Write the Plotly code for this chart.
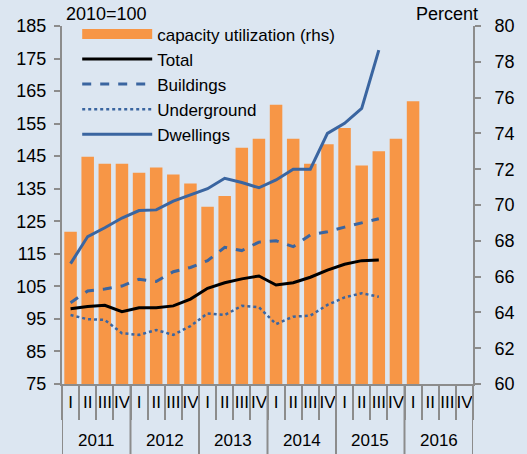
import plotly.graph_objects as go

year_names = ["2011", "2012", "2013", "2014", "2015", "2016"]
quarter_names = ["I", "II", "III", "IV"]
categories = [f"{y} {q}" for y in year_names for q in quarter_names]
quarters = quarter_names * len(year_names)

# capacity utilization, percent (rhs) - 2011 I .. 2016 I
capacity = [68.5, 72.7, 72.3, 72.3, 71.8, 72.1, 71.7, 71.2, 69.9, 70.5, 73.2, 73.7,
            75.6, 73.7, 72.3, 73.4, 74.3, 72.2, 73.0, 73.7, 75.8]

# indices, 2010=100 - 2011 I .. 2015 III
total = [98.1, 98.8, 99.2, 97.2, 98.4, 98.4, 99.0, 101.1, 104.4, 106.1, 107.3, 108.2,
         105.4, 106.1, 107.8, 110.0, 111.8, 112.9, 113.1]
buildings = [100.0, 103.6, 104.2, 105.1, 107.2, 106.5, 109.5, 110.8, 112.9, 117.0, 116.0, 118.6,
             119.0, 117.2, 120.8, 121.8, 123.2, 124.4, 125.8]
underground = [96.2, 94.9, 94.7, 90.6, 90.1, 91.6, 90.1, 92.8, 96.7, 96.2, 99.0, 98.6,
               93.4, 95.7, 96.0, 99.3, 101.6, 102.9, 101.8]
dwellings = [112.0, 120.3, 123.0, 126.0, 128.3, 128.5, 131.2, 133.1, 135.0, 138.2, 136.9, 135.3,
             137.7, 141.0, 141.0, 152.0, 155.1, 159.7, 177.6]

ORANGE = "#F79646"
BLUE = "#3A65A0"
BG = "#DCE6F1"
AXIS = "#8C8C8C"
FONT = "Liberation Sans, Arial, sans-serif"

fig = go.Figure()

# bars sit on the right-hand axis (drawn first, underneath the lines)
fig.add_trace(go.Bar(
    x=categories[:len(capacity)], y=capacity, yaxis="y",
    marker=dict(color=ORANGE, line=dict(width=0)),
    name="capacity utilization (rhs)", showlegend=False,
))
# legend entry for the bars: wide orange block like the original
fig.add_trace(go.Scatter(
    x=[None], y=[None], yaxis="y2", mode="lines",
    line=dict(color=ORANGE, width=10), name="capacity utilization (rhs)",
))

n = len(total)
for name, vals, line in [
    ("Total", total, dict(color="black", width=3)),
    ("Buildings", buildings, dict(color=BLUE, width=3, dash="dash")),
    ("Underground", underground, dict(color=BLUE, width=2.5, dash="dot")),
    ("Dwellings", dwellings, dict(color=BLUE, width=3)),
]:
    fig.add_trace(go.Scatter(x=categories[:n], y=vals, yaxis="y2", mode="lines",
                             name=name, line=line))

# year dividers under the axis + year labels
shapes = []
annotations = []
for i, yr in enumerate(year_names):
    shapes.append(dict(type="line", xref="x", yref="paper", x0=4 * i - 0.5, x1=4 * i - 0.5,
                       y0=0, y1=-0.2, line=dict(color=AXIS, width=2)))
    annotations.append(dict(text=yr, xref="x", yref="paper", x=4 * i + 1.5, y=-0.159,
                            showarrow=False, font=dict(size=17), yanchor="middle"))
shapes.append(dict(type="line", xref="x", yref="paper", x0=23.5, x1=23.5,
                   y0=0, y1=-0.2, line=dict(color=AXIS, width=2)))

annotations += [
    dict(text="2010=100", xref="paper", yref="paper", x=0.005, y=1.033,
         xanchor="left", yanchor="middle", showarrow=False, font=dict(size=18)),
    dict(text="Percent", xref="paper", yref="paper", x=1.016, y=1.033,
         xanchor="right", yanchor="middle", showarrow=False, font=dict(size=18)),
]

fig.update_layout(
    width=527, height=454,
    margin=dict(l=62, r=44, t=26, b=70),
    paper_bgcolor=BG, plot_bgcolor=BG,
    font=dict(family=FONT, size=18, color="black"),
    bargap=0.27,
    showlegend=True,
    legend=dict(x=0.037, y=1.027, xanchor="left", yanchor="top",
                bgcolor="rgba(0,0,0,0)", itemwidth=70,
                font=dict(size=17), tracegroupgap=0),
    xaxis=dict(
        type="category", categoryorder="array", categoryarray=categories,
        tickmode="array", tickvals=categories, ticktext=quarters,
        tickson="boundaries", tickangle=0,
        showline=True, linecolor=AXIS, linewidth=2,
        ticks="outside", ticklen=34, tickcolor=AXIS, tickwidth=2,
        ticklabelstandoff=2,
        tickfont=dict(size=17), showgrid=False,
        range=[-0.5, 23.5],
    ),
    yaxis=dict(
        range=[60, 80], dtick=2, side="right",
        showline=True, linecolor=AXIS, linewidth=2,
        ticks="outside", ticklen=6, tickcolor=AXIS, tickwidth=2,
        ticklabelstandoff=10,
        showgrid=False, zeroline=False, tickfont=dict(size=18),
    ),
    yaxis2=dict(
        range=[75, 185], dtick=10, tick0=75, overlaying="y", side="left",
        showline=True, linecolor=AXIS, linewidth=2,
        ticks="outside", ticklen=6, tickcolor=AXIS, tickwidth=2,
        ticklabelstandoff=4,
        showgrid=False, zeroline=False, tickfont=dict(size=18),
    ),
    shapes=shapes,
    annotations=annotations,
)

# the page's default body margin would shift the chart; remove it
fig.write_html("out.html", config={"displayModeBar": False},
               post_script="document.body.style.margin='0';")
